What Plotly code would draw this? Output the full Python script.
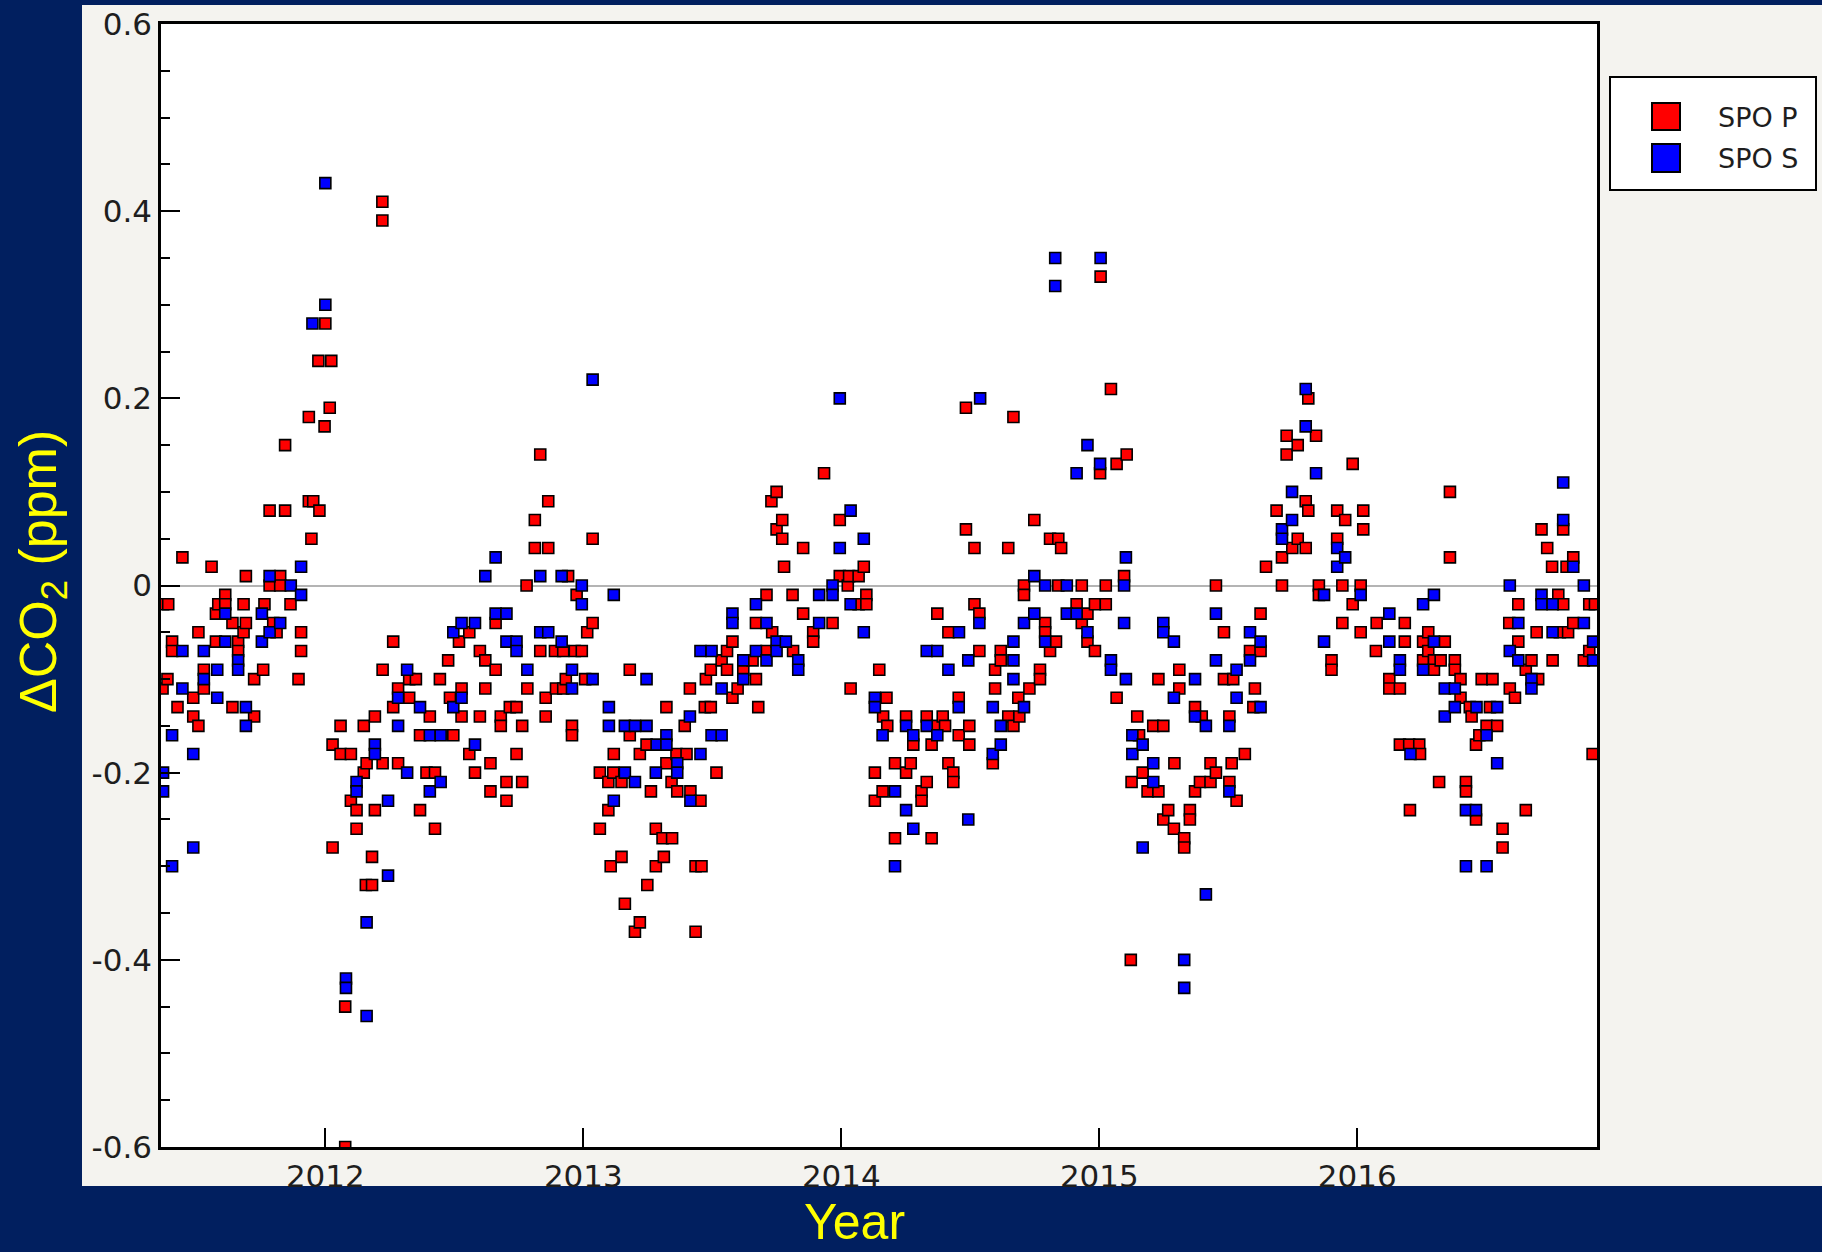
import plotly.graph_objects as go

# ---------------- data (decimal year, delta CO2 ppm) ----------------
spo_p = [
    (2011.371,-0.02),(2011.391,-0.02),(2011.369,-0.11),(2011.388,-0.10),(2011.406,-0.06),(2011.406,-0.07),
    (2011.427,-0.13),(2011.446,0.03),(2011.488,-0.12),(2011.488,-0.14),(2011.508,-0.05),(2011.508,-0.15),
    (2011.529,-0.09),(2011.529,-0.11),(2011.559,0.02),(2011.576,-0.03),(2011.576,-0.06),(2011.585,-0.02),
    (2011.612,-0.01),(2011.612,-0.02),(2011.640,-0.04),(2011.640,-0.13),(2011.662,-0.06),(2011.662,-0.07),
    (2011.683,-0.02),(2011.683,-0.05),(2011.692,0.01),(2011.692,-0.04),(2011.724,-0.10),(2011.724,-0.14),
    (2011.759,-0.09),(2011.764,-0.02),(2011.784,0.08),(2011.784,0.00),(2011.798,-0.04),(2011.811,-0.05),
    (2011.825,0.01),(2011.825,0.00),(2011.844,0.15),(2011.844,0.08),(2011.865,-0.02),(2011.896,-0.10),
    (2011.906,-0.05),(2011.906,-0.07),(2011.936,0.18),(2011.936,0.09),(2011.946,0.05),(2011.953,0.09),
    (2011.973,0.24),(2011.977,0.08),(2011.997,0.17),(2012.000,0.28),(2012.017,0.19),(2012.023,0.24),
    (2012.028,-0.17),(2012.028,-0.28),(2012.059,-0.15),(2012.059,-0.18),(2012.077,-0.45),(2012.077,-0.60),
    (2012.099,-0.18),(2012.099,-0.23),(2012.121,-0.24),(2012.121,-0.26),(2012.149,-0.15),(2012.149,-0.20),
    (2012.157,-0.32),(2012.160,-0.19),(2012.181,-0.29),(2012.181,-0.32),(2012.192,-0.14),(2012.192,-0.24),
    (2012.221,0.41),(2012.221,0.39),(2012.222,-0.09),(2012.222,-0.19),(2012.263,-0.06),(2012.263,-0.13),
    (2012.282,-0.11),(2012.282,-0.19),
    (2012.325,-0.10),(2012.351,-0.10),(2012.325,-0.12),(2012.367,-0.16),(2012.367,-0.24),(2012.392,-0.20),
    (2012.405,-0.14),(2012.425,-0.20),(2012.425,-0.26),(2012.444,-0.10),(2012.476,-0.08),(2012.483,-0.12),
    (2012.496,-0.16),(2012.518,-0.06),(2012.528,-0.11),(2012.528,-0.14),(2012.558,-0.05),(2012.558,-0.18),
    (2012.580,-0.20),(2012.599,-0.07),(2012.599,-0.14),(2012.620,-0.08),(2012.620,-0.11),(2012.640,-0.19),
    (2012.640,-0.22),(2012.660,-0.04),(2012.660,-0.09),(2012.680,-0.14),(2012.680,-0.15),(2012.702,-0.21),
    (2012.702,-0.23),(2012.715,-0.13),(2012.741,-0.13),(2012.741,-0.18),(2012.763,-0.15),(2012.763,-0.21),
    (2012.780,0.00),(2012.783,-0.11),(2012.812,0.07),(2012.812,0.04),(2012.833,0.14),(2012.833,-0.07),
    (2012.854,-0.12),(2012.854,-0.14),(2012.864,0.09),(2012.864,0.04),(2012.890,-0.07),(2012.894,-0.11),
    (2012.922,-0.07),(2012.922,-0.11),(2012.932,-0.10),(2012.941,0.01),(2012.956,-0.15),(2012.956,-0.16),
    (2012.967,-0.07),(2012.974,-0.01),(2012.994,-0.07),(2013.007,-0.10),(2013.015,-0.05),(2013.036,0.05),
    (2013.036,-0.04),(2013.064,-0.20),(2013.064,-0.26),(2013.097,-0.21),(2013.097,-0.24),(2013.106,-0.30),
    (2013.116,-0.20),(2013.118,-0.18),(2013.148,-0.21),(2013.148,-0.29),(2013.161,-0.34),(2013.180,-0.09),
    (2013.180,-0.16),(2013.200,-0.37),(2013.219,-0.18),(2013.219,-0.36),(2013.245,-0.17),(2013.248,-0.32),
    (2013.262,-0.22),(2013.281,-0.26),(2013.281,-0.30),(2013.307,-0.27),(2013.312,-0.29),(2013.322,-0.13),
    (2013.322,-0.19),(2013.342,-0.21),(2013.344,-0.27),(2013.361,-0.18),(2013.364,-0.22),(2013.393,-0.15),
    (2013.400,-0.18),(2013.413,-0.11),(2013.415,-0.22),(2013.435,-0.30),(2013.435,-0.37),(2013.454,-0.23),
    (2013.458,-0.30),(2013.471,-0.13),(2013.475,-0.10),(2013.494,-0.09),(2013.494,-0.13),(2013.516,-0.20),
    (2013.536,-0.08),(2013.557,-0.07),(2013.557,-0.09),(2013.578,-0.06),(2013.578,-0.12),(2013.598,-0.11),
    (2013.620,-0.09),(2013.656,-0.08),(2013.669,-0.04),(2013.669,-0.10),(2013.678,-0.13),(2013.710,-0.01),
    (2013.710,-0.07),(2013.729,0.09),(2013.732,-0.05),(2013.749,0.10),(2013.749,0.06),(2013.771,0.07),
    (2013.771,0.05),(2013.778,0.02),(2013.811,-0.01),(2013.813,-0.07),(2013.852,0.04),(2013.852,-0.03),
    (2013.891,-0.05),(2013.891,-0.06),(2013.933,0.12),(2013.966,-0.04),(2013.994,0.07),(2013.994,0.01),
    (2014.025,0.00),(2014.030,0.01),(2014.036,-0.11),(2014.067,0.01),(2014.067,-0.02),(2014.087,0.02),
    (2014.097,-0.01),(2014.097,-0.02),(2014.130,-0.20),(2014.130,-0.23),(2014.147,-0.09),(2014.160,-0.22),
    (2014.162,-0.14),(2014.175,-0.12),
    (2014.178,-0.15),(2014.208,-0.19),(2014.208,-0.27),(2014.251,-0.14),(2014.251,-0.20),(2014.269,-0.19),
    (2014.279,-0.17),(2014.311,-0.22),(2014.311,-0.23),(2014.331,-0.14),(2014.331,-0.21),(2014.350,-0.17),
    (2014.350,-0.27),(2014.372,-0.03),(2014.372,-0.15),(2014.393,-0.14),(2014.402,-0.15),(2014.415,-0.05),
    (2014.415,-0.19),(2014.434,-0.20),(2014.434,-0.21),(2014.455,-0.12),(2014.455,-0.16),(2014.483,0.19),
    (2014.483,0.06),(2014.496,-0.15),(2014.496,-0.17),(2014.516,0.04),(2014.516,-0.02),(2014.535,-0.03),
    (2014.535,-0.07),(2014.587,-0.19),(2014.596,-0.09),(2014.596,-0.11),(2014.618,-0.07),(2014.618,-0.08),
    (2014.647,0.04),(2014.647,-0.14),(2014.667,0.18),(2014.667,-0.15),(2014.686,-0.12),(2014.690,-0.14),
    (2014.708,0.00),(2014.708,-0.01),(2014.729,-0.11),(2014.748,0.07),(2014.770,-0.09),(2014.770,-0.10),
    (2014.790,-0.04),(2014.790,-0.05),(2014.809,0.05),(2014.809,-0.07),(2014.832,-0.06),(2014.841,0.05),
    (2014.841,0.00),(2014.852,0.04),(2014.912,-0.02),(2014.932,0.00),(2014.932,-0.04),(2014.954,-0.03),
    (2014.954,-0.06),(2014.983,-0.02),(2014.983,-0.07),(2015.003,0.12),(2015.005,0.33),(2015.025,0.00),
    (2015.025,-0.02),(2015.045,0.21),(2015.067,0.13),(2015.067,-0.12),(2015.096,0.01),(2015.106,0.14),
    (2015.122,-0.40),(2015.125,-0.21),(2015.147,-0.14),(2015.154,-0.16),(2015.168,-0.20),(2015.187,-0.22),
    (2015.209,-0.15),(2015.229,-0.10),(2015.229,-0.22),(2015.248,-0.15),(2015.248,-0.25),(2015.267,-0.24),
    (2015.289,-0.26),(2015.291,-0.19),(2015.310,-0.09),(2015.310,-0.11),(2015.329,-0.27),(2015.329,-0.28),
    (2015.351,-0.24),(2015.351,-0.25),(2015.371,-0.13),(2015.371,-0.22),(2015.390,-0.21),(2015.397,-0.14),
    (2015.431,-0.19),(2015.431,-0.21),(2015.452,0.00),(2015.452,-0.20),(2015.483,-0.05),(2015.483,-0.10),
    (2015.504,-0.14),(2015.504,-0.21),(2015.513,-0.19),(2015.519,-0.10),(2015.532,-0.23),(2015.564,-0.18),
    (2015.584,-0.07),(2015.597,-0.13),(2015.603,-0.11),(2015.625,-0.03),(2015.625,-0.07),(2015.646,0.02),
    (2015.687,0.08),(2015.708,0.03),(2015.708,0.00),(2015.726,0.16),(2015.726,0.14),(2015.748,0.04),
    (2015.769,0.15),(2015.769,0.05),(2015.800,0.09),(2015.800,0.04),(2015.810,0.20),(2015.810,0.08),
    (2015.840,0.16),(2015.851,0.00),(2015.851,-0.01),(2015.900,-0.08),(2015.900,-0.09),(2015.922,0.08),
    (2015.922,0.05),(2015.942,0.00),(2015.942,-0.04),(2015.953,0.07),(2015.982,0.13),(2015.982,-0.02),
    (2016.013,0.00),(2016.013,-0.05),(2016.023,0.08),(2016.023,0.06),
    (2016.072,-0.07),(2016.075,-0.04),(2016.124,-0.10),(2016.124,-0.11),(2016.165,-0.11),(2016.165,-0.17),
    (2016.184,-0.04),(2016.184,-0.06),(2016.201,-0.17),(2016.204,-0.24),(2016.240,-0.17),(2016.243,-0.18),
    (2016.255,-0.06),(2016.255,-0.08),(2016.275,-0.05),(2016.275,-0.07),(2016.297,-0.08),(2016.297,-0.09),
    (2016.317,-0.21),(2016.323,-0.08),(2016.339,-0.06),(2016.359,0.10),(2016.359,0.03),(2016.378,-0.08),
    (2016.378,-0.09),(2016.400,-0.10),(2016.400,-0.12),(2016.421,-0.21),(2016.421,-0.22),(2016.436,-0.13),
    (2016.443,-0.14),(2016.460,-0.17),(2016.460,-0.25),(2016.473,-0.16),(2016.482,-0.10),(2016.501,-0.15),
    (2016.514,-0.13),(2016.524,-0.10),(2016.542,-0.15),(2016.563,-0.26),(2016.563,-0.28),(2016.589,-0.04),
    (2016.591,-0.11),(2016.611,-0.12),(2016.624,-0.02),(2016.624,-0.06),(2016.653,-0.09),(2016.653,-0.24),
    (2016.675,-0.08),(2016.695,-0.05),(2016.701,-0.10),(2016.714,0.06),(2016.736,0.04),(2016.755,0.02),
    (2016.757,-0.08),(2016.779,-0.01),(2016.785,-0.05),(2016.798,0.06),(2016.798,-0.02),(2016.811,0.02),
    (2016.817,-0.05),(2016.837,0.03),(2016.837,-0.04),(2016.878,-0.08),(2016.899,-0.02),(2016.899,-0.07),
    (2016.912,-0.18),(2016.921,-0.02),
]

spo_s = [
    (2011.371,-0.20),(2011.371,-0.22),(2011.406,-0.16),(2011.406,-0.30),(2011.446,-0.07),(2011.446,-0.11),
    (2011.488,-0.18),(2011.488,-0.28),(2011.529,-0.07),(2011.529,-0.10),(2011.581,-0.09),(2011.581,-0.12),
    (2011.612,-0.03),(2011.612,-0.06),(2011.662,-0.08),(2011.662,-0.09),(2011.692,-0.13),(2011.692,-0.15),
    (2011.754,-0.03),(2011.754,-0.06),(2011.784,0.01),(2011.784,-0.05),(2011.825,-0.04),(2011.866,0.00),
    (2011.906,0.02),(2011.906,-0.01),(2011.950,0.28),(2012.000,0.43),(2012.000,0.30),(2012.080,-0.42),
    (2012.080,-0.43),(2012.121,-0.21),(2012.121,-0.22),(2012.160,-0.46),(2012.160,-0.36),(2012.192,-0.17),
    (2012.192,-0.18),(2012.243,-0.23),(2012.243,-0.31),(2012.282,-0.12),(2012.282,-0.15),(2012.317,-0.09),
    (2012.317,-0.20),
    (2012.367,-0.13),(2012.405,-0.16),(2012.405,-0.22),(2012.447,-0.16),(2012.447,-0.21),(2012.496,-0.05),
    (2012.496,-0.13),(2012.528,-0.04),(2012.528,-0.12),(2012.580,-0.04),(2012.580,-0.17),(2012.620,0.01),
    (2012.660,0.03),(2012.660,-0.03),(2012.702,-0.03),(2012.702,-0.06),(2012.741,-0.06),(2012.741,-0.07),
    (2012.783,-0.09),(2012.833,0.01),(2012.833,-0.05),(2012.864,-0.05),(2012.916,0.01),(2012.916,-0.06),
    (2012.956,-0.09),(2012.956,-0.11),(2012.994,0.00),(2012.994,-0.02),(2013.036,0.22),(2013.036,-0.10),
    (2013.099,-0.13),(2013.099,-0.15),(2013.118,-0.01),(2013.118,-0.23),(2013.161,-0.15),(2013.161,-0.20),
    (2013.200,-0.15),(2013.200,-0.21),(2013.245,-0.10),(2013.245,-0.15),
    (2013.281,-0.20),(2013.284,-0.17),(2013.322,-0.16),(2013.322,-0.17),(2013.364,-0.19),(2013.364,-0.20),
    (2013.413,-0.14),(2013.415,-0.23),(2013.454,-0.07),(2013.454,-0.18),(2013.497,-0.07),(2013.497,-0.16),
    (2013.536,-0.11),(2013.536,-0.16),(2013.578,-0.03),(2013.578,-0.04),(2013.620,-0.08),(2013.620,-0.10),
    (2013.669,-0.02),(2013.669,-0.07),(2013.710,-0.04),(2013.710,-0.08),(2013.749,-0.06),(2013.749,-0.07),
    (2013.785,-0.06),(2013.833,-0.08),(2013.833,-0.09),(2013.914,-0.01),(2013.914,-0.04),(2013.966,0.00),
    (2013.966,-0.01),(2013.994,0.20),(2013.994,0.04),(2014.036,0.08),(2014.036,-0.02),(2014.087,0.05),
    (2014.087,-0.05),(2014.130,-0.12),(2014.130,-0.13),(2014.160,-0.16),
    (2014.208,-0.22),(2014.208,-0.30),(2014.251,-0.15),(2014.251,-0.24),(2014.279,-0.16),(2014.279,-0.26),
    (2014.331,-0.07),(2014.331,-0.15),(2014.372,-0.07),(2014.372,-0.16),(2014.415,-0.09),(2014.455,-0.13),
    (2014.456,-0.05),(2014.492,-0.08),(2014.492,-0.25),(2014.535,-0.04),(2014.538,0.20),(2014.587,-0.13),
    (2014.587,-0.18),(2014.618,-0.15),(2014.618,-0.17),(2014.667,-0.06),(2014.667,-0.08),(2014.667,-0.10),
    (2014.708,-0.04),(2014.708,-0.13),(2014.748,0.01),(2014.748,-0.03),(2014.790,0.00),(2014.790,-0.06),
    (2014.829,0.35),(2014.829,0.32),(2014.874,0.00),(2014.874,-0.03),(2014.912,0.12),(2014.912,-0.03),
    (2014.954,0.15),(2014.954,-0.05),(2015.003,0.13),(2015.005,0.35),(2015.045,-0.08),(2015.045,-0.09),
    (2015.096,0.00),(2015.096,-0.04),(2015.103,0.03),(2015.103,-0.10),
    (2015.128,-0.16),(2015.128,-0.18),(2015.168,-0.17),(2015.168,-0.28),(2015.209,-0.19),(2015.209,-0.21),
    (2015.248,-0.04),(2015.248,-0.05),(2015.289,-0.06),(2015.289,-0.12),(2015.329,-0.40),(2015.329,-0.43),
    (2015.371,-0.10),(2015.371,-0.14),(2015.413,-0.15),(2015.413,-0.33),(2015.452,-0.03),(2015.452,-0.08),
    (2015.504,-0.15),(2015.504,-0.22),(2015.532,-0.09),(2015.532,-0.12),(2015.584,-0.05),(2015.584,-0.08),
    (2015.625,-0.06),(2015.625,-0.13),(2015.708,0.06),(2015.708,0.05),(2015.747,0.10),(2015.747,0.07),
    (2015.800,0.21),(2015.800,0.17),(2015.840,0.12),(2015.871,-0.01),(2015.871,-0.06),(2015.922,0.04),
    (2015.922,0.02),(2015.953,0.03),(2016.013,-0.01),
    (2016.124,-0.03),(2016.124,-0.06),(2016.165,-0.08),(2016.165,-0.09),(2016.206,-0.18),(2016.255,-0.02),
    (2016.255,-0.09),(2016.297,-0.01),(2016.297,-0.06),(2016.339,-0.11),(2016.339,-0.14),(2016.378,-0.11),
    (2016.378,-0.13),(2016.421,-0.24),(2016.421,-0.30),(2016.460,-0.24),(2016.462,-0.13),(2016.501,-0.16),
    (2016.501,-0.30),(2016.542,-0.13),(2016.542,-0.19),(2016.591,0.00),(2016.591,-0.07),(2016.624,-0.04),
    (2016.624,-0.08),(2016.675,-0.10),(2016.675,-0.11),(2016.714,-0.01),(2016.714,-0.02),(2016.757,-0.02),
    (2016.757,-0.05),(2016.798,0.11),(2016.798,0.07),(2016.837,0.02),(2016.878,0.00),(2016.878,-0.04),
    (2016.914,-0.06),(2016.914,-0.08),
]

series_names = ["SPO P", "SPO S"]
series_colors = ["#ff0000", "#0000ff"]
year_ticks = [2012, 2013, 2014, 2015, 2016]
year_labels = ["2012", "2013", "2014", "2015", "2016"]
ppm_ticks = [0.6, 0.4, 0.2, 0, -0.2, -0.4, -0.6]
ppm_labels = ["0.6", "0.4", "0.2", "0", "-0.2", "-0.4", "-0.6"]
x_range = [2011.363, 2016.929]
y_range = [-0.6, 0.6]

# ---------------- layout geometry (pixels) ----------------
W, H = 1822, 1252
PL, PR, PT, PB = 161, 1597, 24, 1147


def px(x):
    return (x - PL) / (PR - PL)


def py(y):
    return (PB - y) / (PB - PT)


fig = go.Figure()
for data, name, color in zip([spo_p, spo_s], series_names, series_colors):
    fig.add_trace(go.Scatter(
        x=[d[0] for d in data], y=[d[1] for d in data],
        mode="markers", name=name, showlegend=False,
        marker=dict(symbol="square", size=11, color=color,
                    line=dict(color="black", width=1.6)),
    ))

TICKFONT = dict(family="DejaVu Sans", size=31, color="#1e1e1e")

fig.update_layout(
    width=W, height=H,
    margin=dict(l=PL, r=W - PR, t=PT, b=H - PB, pad=0, autoexpand=False),
    paper_bgcolor="#011f5f",
    plot_bgcolor="white",
    showlegend=False,
    xaxis=dict(
        range=x_range, tickvals=year_ticks, ticktext=year_labels, automargin=False,
        showline=True, linecolor="black", linewidth=2.5, mirror=True,
        ticks="inside", ticklen=19, tickwidth=2, tickcolor="black",
        showgrid=False, zeroline=False, tickfont=TICKFONT,
    ),
    yaxis=dict(
        range=y_range, tickvals=ppm_ticks, ticktext=ppm_labels, automargin=False,
        showline=True, linecolor="black", linewidth=2.5, mirror=True,
        ticks="inside", ticklen=19, tickwidth=2, tickcolor="black",
        minor=dict(dtick=0.05, tick0=0, ticks="inside", ticklen=9,
                   tickwidth=2, tickcolor="black", showgrid=False),
        showgrid=False, zeroline=True, zerolinecolor="#b4b4b4", zerolinewidth=1.5,
        tickfont=TICKFONT,
    ),
)

shapes = [
    # light panel behind the chart
    dict(type="rect", xref="paper", yref="paper", layer="below",
         x0=px(82), x1=px(1822), y0=py(1186), y1=py(5),
         fillcolor="#f4f3ef", line=dict(width=0)),
    # white plotting area
    dict(type="rect", xref="paper", yref="paper", layer="below",
         x0=0, x1=1, y0=0, y1=1, fillcolor="white", line=dict(width=0)),
    # legend box
    dict(type="rect", xref="paper", yref="paper",
         x0=px(1610), x1=px(1816), y0=py(190), y1=py(77),
         fillcolor="white", line=dict(color="black", width=2)),
    dict(type="rect", xref="paper", yref="paper",
         x0=px(1652), x1=px(1680), y0=py(130), y1=py(103),
         fillcolor=series_colors[0], line=dict(color="black", width=2)),
    dict(type="rect", xref="paper", yref="paper",
         x0=px(1652), x1=px(1680), y0=py(172), y1=py(144),
         fillcolor=series_colors[1], line=dict(color="black", width=2)),
]
fig.update_layout(shapes=shapes)

LEGFONT = dict(family="DejaVu Sans", size=27, color="#1e1e1e")
annotations = [
    dict(text=series_names[0], xref="paper", yref="paper", x=px(1716), y=py(117),
         xanchor="left", yanchor="middle", showarrow=False, font=LEGFONT),
    dict(text=series_names[1], xref="paper", yref="paper", x=px(1716), y=py(158),
         xanchor="left", yanchor="middle", showarrow=False, font=LEGFONT),
    dict(text="ΔCO<sub>2</sub> (ppm)", xref="paper", yref="paper", x=px(42), y=py(572),
         xanchor="center", yanchor="middle", textangle=-90, showarrow=False,
         font=dict(family="Liberation Sans", size=52, color="#ffff00")),
    dict(text="Year", xref="paper", yref="paper", x=px(854), y=py(1222),
         xanchor="center", yanchor="middle", showarrow=False,
         font=dict(family="Liberation Sans", size=50, color="#ffff00")),
]
fig.update_layout(annotations=annotations)

fig.write_html("out.html")
